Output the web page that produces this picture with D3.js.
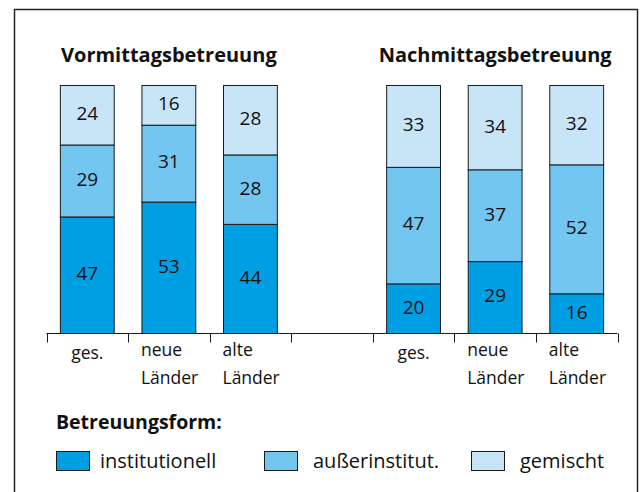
<!DOCTYPE html>
<html><head><meta charset="utf-8">
<script src="https://cdn.jsdelivr.net/npm/d3@7"></script>
<style>body{margin:0;background:#fff}svg{display:block}text{font-family:"Open Sans",sans-serif;fill:#111}</style>
</head><body><svg id="c" width="643" height="492"></svg>
<script>
const groups = ["Vormittagsbetreuung", "Nachmittagsbetreuung"];
const categories = ["V_ges", "V_neue", "V_alte", "gap", "N_ges", "N_neue", "N_alte"];
const categoryLabels = [["ges."], ["neue", "Länder"], ["alte", "Länder"], [], ["ges."], ["neue", "Länder"], ["alte", "Länder"]];
const seriesNames = ["institutionell", "außerinstitut.", "gemischt"];
const institutionell = [47, 53, 44, null, 20, 29, 16];
const ausserinstitut = [29, 31, 28, null, 47, 37, 52];
const gemischt = [24, 16, 28, null, 33, 34, 32];
const colors = ["#009fe3", "#73c6ef", "#c8e4f7"];
const legendTitle = "Betreuungsform:";

const svg = d3.select("#c");
svg.append("path").attr("d", "M14.5,500V9.5H637.5V500")
  .attr("fill", "none").attr("stroke", "#222").attr("stroke-width", 1.5);

const x = d3.scaleBand().domain(categories).range([46.5, 617.5]).paddingInner(0).paddingOuter(0);
const y = d3.scaleLinear().domain([0, 100]).range([333.5, 85.5]);
const barW = x.bandwidth() * 0.66;

const rows = categories.map((c, i) => ({cat: c, institutionell: institutionell[i], ausser: ausserinstitut[i], gemischt: gemischt[i]}))
  .filter(d => d.institutionell != null);
const stack = d3.stack().keys(["institutionell", "ausser", "gemischt"]);
const series = stack(rows);

series.forEach((s, si) => {
  const g = svg.append("g");
  g.selectAll("rect").data(s).join("rect")
    .attr("x", d => x(d.data.cat) + (x.bandwidth() - barW) / 2)
    .attr("y", d => y(d[1]))
    .attr("width", barW)
    .attr("height", d => y(d[0]) - y(d[1]))
    .attr("fill", colors[si]).attr("stroke", "#1a1a1a").attr("stroke-width", 1);
  g.selectAll("text").data(s).join("text")
    .attr("x", d => x(d.data.cat) + x.bandwidth() / 2)
    .attr("y", d => (y(d[0]) + y(d[1])) / 2 - 2)
    .attr("dy", "0.36em").attr("text-anchor", "middle")
    .style("font-size", "19px")
    .text(d => d[1] - d[0]);
});

// axis
const axisG = svg.append("g").attr("transform", "translate(0,333.5)");
axisG.append("line").attr("x1", 46.5).attr("x2", 617.5).attr("stroke", "#1a1a1a");
const ticks = categories.map(c => x(c)).concat([x.range()[1]]);
axisG.selectAll("line.t").data(ticks).join("line").attr("class", "t")
  .attr("x1", d => Math.round(d) + 0.5).attr("x2", d => Math.round(d) + 0.5).attr("y1", 0).attr("y2", 9)
  .attr("stroke", "#1a1a1a");

categories.forEach((c, i) => {
  const lab = categoryLabels[i];
  if (!lab.length) return;
  if (lab.length === 1) {
    svg.append("text").attr("x", x(c) + x.bandwidth() / 2).attr("y", 359)
      .attr("text-anchor", "middle").style("font-size", "17.5px").text(lab[0]);
  } else {
    const lx = x(c) + (x.bandwidth() - barW) / 2 - 1;
    lab.forEach((t, j) => svg.append("text").attr("x", lx).attr("y", 356 + j * 27.5)
      .style("font-size", "17.5px").text(t));
  }
});

// group titles
[[0, 2], [4, 6]].forEach((r, gi) => {
  const cx = (x(categories[r[0]]) + x(categories[r[1]]) + x.bandwidth()) / 2;
  svg.append("text").attr("x", cx).attr("y", 61.5).attr("text-anchor", "middle")
    .style("font-size", "20px").style("font-weight", "bold").text(groups[gi]);
});

// legend
svg.append("text").attr("x", 56).attr("y", 429).style("font-size", "19.5px").style("font-weight", "bold").text(legendTitle);
const legX = [56, 264, 471];
const legTx = [100, 313, 520];
seriesNames.forEach((n, i) => {
  svg.append("rect").attr("x", legX[i] + 0.5).attr("y", 451.5).attr("width", 33).attr("height", 19)
    .attr("fill", colors[i]).attr("stroke", "#1a1a1a");
  svg.append("text").attr("x", legTx[i]).attr("y", 468).style("font-size", "20px").text(n);
});
</script></body></html>
